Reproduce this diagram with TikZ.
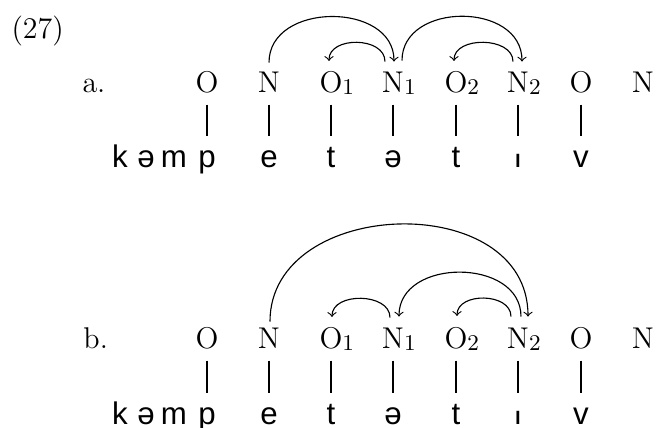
\documentclass[tikz,border=0pt]{standalone}
\usepackage{graphicx}
\usepackage{fontspec}
\newfontfamily\ipafont{Liberation Sans}
\usetikzlibrary{calc}
\newcommand\sbs[1]{\rlap{\raisebox{-1pt}{\fontsize{9}{9}\selectfont #1}}}
\newcommand\shorti{\scalebox{1}[0.8]{ı}}
\tikzset{
  seg/.style={inner sep=0pt, anchor=base, text depth=0pt, font=\fontsize{12}{14}\selectfont},
  ph/.style={inner sep=0pt, anchor=base, text height=8pt, text depth=0pt, font=\ipafont\fontsize{12.5}{14}\selectfont},
  lbl/.style={inner sep=0pt, anchor=base west, font=\fontsize{12}{14}\selectfont},
  bar/.style={line width=1.15pt, shorten <=4.8pt, shorten >=4.4pt},
  arc/.style={line width=0.45pt, ->},
}
\begin{document}
\begin{tikzpicture}[x=0.4pt, y=-0.4pt]
\useasboundingbox (0,0) rectangle (656,428);
\node[lbl] (ex) at (11,38) {(27)};
% ---------- row a ----------
\node[lbl] (la) at (82,92) {a.};
\node[seg] (aO)  at (207,92) {O};
\node[seg] (aN)  at (269,92) {N};
\node[seg] (aO1) at (331,92) {O\sbs{1}};
\node[seg] (aN1) at (393,92) {N\sbs{1}};
\node[seg] (aO2) at (456,92) {O\sbs{2}};
\node[seg] (aN2) at (518,92) {N\sbs{2}};
\node[seg] (aO3) at (581,92) {O};
\node[seg] (aN3) at (643,92) {N};
\node[ph] (ak)  at (120,167) {k};
\node[ph] (as)  at (146,167) {ə};
\node[ph] (am)  at (174,167) {m};
\node[ph] (ap)  at (207,167) {p};
\node[ph] (ae)  at (269,167) {e};
\node[ph] (at1) at (331,167) {t};
\node[ph] (as2) at (393,167) {ə};
\node[ph] (at2) at (456,167) {t};
\node[ph] (ai)  at (518,167) {\shorti};
\node[ph] (av)  at (581,167) {v};
\foreach \s/\p in {aO/ap, aN/ae, aO1/at1, aN1/as2, aO2/at2, aN2/ai, aO3/av}
  \draw[bar] (\s.south) -- (\p.north);
\draw[arc] ($(aN.north)+(0,-8.5)$) .. controls +(0,-61) and +(0,-60) .. ($(aN1.north)+(1,-9.5)$);
\draw[arc] ($(aN1.north)+(-8,-9.5)$) .. controls +(0,-25) and +(0,-25) .. ($(aO1.north)+(-2,-9.5)$);
\draw[arc] ($(aN1.north)+(9,-10.5)$) .. controls +(0,-59) and +(0,-60) .. ($(aN2.north)+(4,-9.5)$);
\draw[arc] ($(aN2.north)+(-5,-9.5)$) .. controls +(0,-25) and +(0,-25) .. ($(aO2.north)+(-2,-9.5)$);
% ---------- row b ----------
\node[lbl] (lb) at (83,348) {b.};
\node[seg] (bO)  at (207,348) {O};
\node[seg] (bN)  at (269,348) {N};
\node[seg] (bO1) at (331,348) {O\sbs{1}};
\node[seg] (bN1) at (393,348) {N\sbs{1}};
\node[seg] (bO2) at (456,348) {O\sbs{2}};
\node[seg] (bN2) at (518,348) {N\sbs{2}};
\node[seg] (bO3) at (581,348) {O};
\node[seg] (bN3) at (643,348) {N};
\node[ph] (bk)  at (120,424) {k};
\node[ph] (bs)  at (146,424) {ə};
\node[ph] (bm)  at (174,424) {m};
\node[ph] (bp)  at (207,424) {p};
\node[ph] (be)  at (269,424) {e};
\node[ph] (bt1) at (331,424) {t};
\node[ph] (bs2) at (393,424) {ə};
\node[ph] (bt2) at (456,424) {t};
\node[ph] (bi)  at (518,424) {\shorti};
\node[ph] (bv)  at (581,424) {v};
\foreach \s/\p in {bO/bp, bN/be, bO1/bt1, bN1/bs2, bO2/bt2, bN2/bi, bO3/bv}
  \draw[bar] (\s.south) -- (\p.north);
\draw[arc] ($(bN.north)+(1,-5.5)$) .. controls +(0,-125) and +(0,-128) .. ($(bN2.north)+(10,-10.5)$);
\draw[arc] ($(bN1.north)+(-3,-9.5)$) .. controls +(0,-25) and +(0,-25) .. ($(bO1.north)+(1,-9.5)$);
\draw[arc] ($(bN2.north)+(3,-10.5)$) .. controls +(0,-59) and +(0,-59) .. ($(bN1.north)+(6,-10.5)$);
\draw[arc] ($(bN2.north)+(-7,-10.5)$) .. controls +(0,-24) and +(0,-24) .. ($(bO2.north)+(1,-10.5)$);
\end{tikzpicture}
\end{document}
